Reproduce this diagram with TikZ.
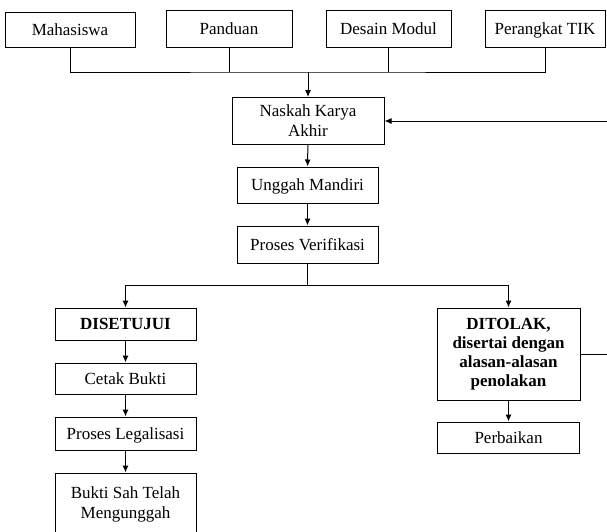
\documentclass[tikz,border=0pt]{standalone}
\usepackage{fontspec}
\setmainfont{Liberation Serif}
\usetikzlibrary{arrows.meta}

\begin{document}
\begin{tikzpicture}[x=1pt,y=-1pt,
  kotak/.style={draw,line width=1pt,align=center,inner sep=0pt,font=\fontsize{17}{20}\selectfont},
  satu/.style={kotak,text height=11.5pt,text depth=0pt},
  garis/.style={line width=1pt},
  panah/.style={garis,-{Latex[length=7pt,width=6pt]}}]
\useasboundingbox (0,0) rectangle (607,531);
\clip (0,0) rectangle (607,531);

\node[satu,minimum width=130pt,minimum height=35pt] (mhs) at (70,29.5) {Mahasiswa};
\node[satu,minimum width=126pt,minimum height=37pt] (pdn) at (229,28.5) {Panduan};
\node[satu,minimum width=125pt,minimum height=37pt] (dsn) at (388.5,28.5) {Desain Modul};
\node[satu,minimum width=120pt,minimum height=37pt] (tik) at (545,28.5) {Perangkat TIK};

\node[kotak,minimum width=152pt,minimum height=47pt] (nsk) at (308,121) {Naskah Karya\\Akhir};
\node[satu,minimum width=141pt,minimum height=36pt] (ung) at (307.5,185) {Unggah Mandiri};
\node[satu,minimum width=141pt,minimum height=37pt] (ver) at (307.5,244.5) {Proses Verifikasi};

\node[satu,minimum width=141pt,minimum height=32pt,font=\fontsize{17}{20}\selectfont\bfseries] (stj) at (125.5,324) {DISETUJUI};
\node[satu,minimum width=141pt,minimum height=31pt] (ctk) at (125.5,378.5) {Cetak Bukti};
\node[satu,minimum width=141pt,minimum height=33pt] (lgl) at (125.5,433.5) {Proses Legalisasi};
\node[kotak,minimum width=141pt,minimum height=62pt] (bkt) at (125.5,504) {Bukti Sah Telah\\Mengunggah};

\node[kotak,minimum width=143pt,minimum height=92pt,font=\fontsize{17}{19}\selectfont\bfseries] (tlk) at (508.5,354) {DITOLAK,\\disertai dengan\\alasan-alasan\\penolakan};
\node[satu,minimum width=142pt,minimum height=31pt] (pbk) at (508.5,437.5) {Perbaikan};

\coordinate (gab) at (308,72);
\coordinate (cab) at (307.5,285.7);
\coordinate (balik) at (612,121);

\draw[garis] (mhs.south) |- (gab) -| (tik.south);
\draw[garis] (pdn.south) -- (pdn.south |- gab);
\draw[garis] (dsn.south) -- (dsn.south |- gab);
\draw[panah] (gab) -- (nsk.north);

\draw[panah] (nsk) -- (ung);
\draw[panah] (ung) -- (ver);
\draw[garis] (ver.south) -- (cab);
\draw[panah] (cab) -| (stj.north);
\draw[panah] (cab) -| (tlk.north);

\draw[panah] (stj) -- (ctk);
\draw[panah] (ctk) -- (lgl);
\draw[panah] (lgl) -- (bkt);
\draw[panah] (tlk) -- (pbk);

\draw[panah] (tlk.east) -| (balik) -- (nsk.east);
\end{tikzpicture}
\end{document}
